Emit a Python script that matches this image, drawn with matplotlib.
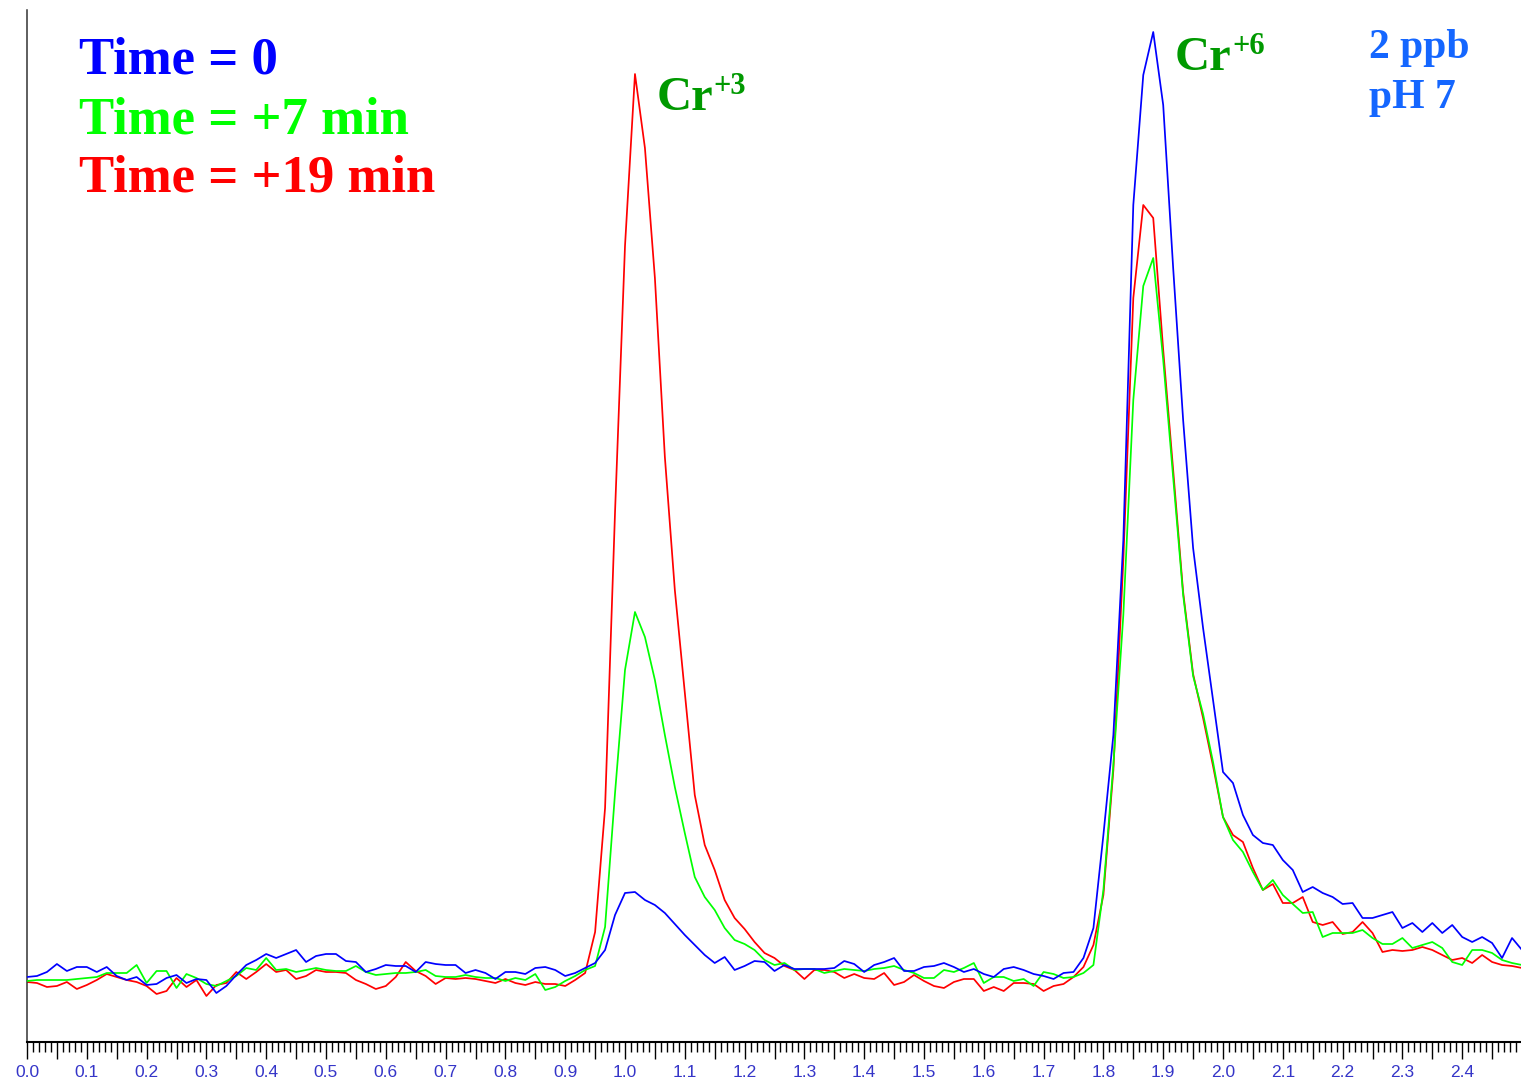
import numpy as np
import matplotlib
matplotlib.use("Agg")
import matplotlib.pyplot as plt
from matplotlib.ticker import MultipleLocator, FuncFormatter

# Detector signal (arbitrary units) sampled once per second; time axis in minutes
SAMPLE_MIN = 1.0 / 60.0

signal_t0 = [
    65, 66, 70, 78, 71, 75, 75, 70, 75, 66, 62, 65, 57, 58, 64, 67, 59, 63, 62, 49,
    56, 67, 77, 82, 88, 84, 88, 92, 80, 86, 88, 88, 81, 80, 70, 73, 77, 76, 76, 70,
    80, 78, 77, 77, 69, 72, 69, 63, 70, 70, 68, 74, 75, 72, 66, 69, 74, 79, 92, 127,
    149, 150, 142, 137, 129, 118, 107, 97, 87, 79, 85, 72, 76, 81, 80, 71, 77, 73, 73, 73,
    73, 74, 81, 78, 70, 77, 80, 84, 71, 71, 75, 76, 79, 75, 70, 73, 68, 65, 73, 75,
    72, 68, 66, 63, 69, 70, 84, 114, 207, 307, 502, 837, 967, 1010, 937, 774, 622, 494, 414, 342,
    270, 259, 227, 207, 199, 197, 182, 172, 150, 155, 149, 145, 138, 139, 124, 124, 127, 130, 114, 119,
    110, 119, 109, 117, 105, 100, 105, 99, 84, 104, 92,
]

signal_t7 = [
    61, 62, 62, 62, 62, 63, 64, 65, 69, 69, 69, 77, 59, 71, 71, 54, 68, 64, 58, 56,
    61, 66, 74, 72, 84, 72, 73, 70, 72, 74, 72, 71, 71, 76, 70, 67, 68, 69, 69, 70,
    72, 66, 65, 65, 67, 65, 64, 64, 61, 64, 62, 68, 52, 55, 61, 66, 72, 76, 115, 249,
    372, 430, 405, 362, 307, 255, 209, 165, 145, 132, 114, 102, 98, 92, 82, 77, 79, 72, 73, 73,
    69, 71, 73, 72, 71, 73, 74, 76, 72, 69, 64, 64, 72, 70, 74, 79, 59, 65, 65, 61,
    63, 56, 70, 68, 64, 65, 69, 77, 152, 277, 427, 642, 756, 784, 682, 564, 447, 366, 328, 280,
    225, 202, 190, 170, 152, 162, 147, 138, 129, 130, 105, 109, 109, 109, 112, 104, 98, 98, 104, 94,
    97, 100, 94, 80, 77, 92, 92, 89, 82, 79, 77,
]

signal_t19 = [
    60, 59, 55, 56, 60, 53, 57, 62, 68, 65, 62, 60, 56, 48, 51, 64, 55, 62, 46, 57,
    59, 70, 63, 70, 78, 70, 72, 63, 66, 72, 70, 70, 69, 62, 58, 53, 56, 65, 80, 71,
    66, 58, 64, 63, 64, 63, 61, 59, 63, 59, 57, 60, 58, 58, 56, 62, 69, 110, 234, 530,
    796, 968, 894, 764, 585, 452, 349, 247, 197, 172, 142, 124, 113, 100, 89, 84, 76, 72, 63, 72,
    72, 70, 64, 68, 64, 63, 69, 57, 60, 67, 61, 56, 54, 60, 63, 63, 51, 55, 51, 59,
    59, 58, 51, 56, 58, 65, 75, 97, 147, 272, 482, 744, 837, 824, 692, 572, 450, 368, 324, 276,
    225, 207, 200, 174, 152, 158, 139, 139, 145, 120, 117, 120, 108, 110, 120, 109, 90, 92, 91, 92,
    95, 92, 87, 82, 84, 79, 87, 80, 77, 76, 74,
]

series_labels = ["Time = 0", "Time = +7 min", "Time = +19 min"]
series_colors = ["#0000ff", "#00ff00", "#ff0000"]
tick_label_color = "#3535c8"

W, H = 1521, 1082
fig = plt.figure(figsize=(W / 100, H / 100), dpi=100)
fig.patch.set_facecolor("white")
ax = fig.add_axes([27 / W, 40 / H, (W - 27) / W, 1032 / H])
ax.set_facecolor("white")

def times(n):
    return np.arange(n) * SAMPLE_MIN

ax.plot(times(len(signal_t19)), signal_t19, color=series_colors[2], lw=1.25, zorder=2)
ax.plot(times(len(signal_t7)), signal_t7, color=series_colors[1], lw=1.25, zorder=3)
ax.plot(times(len(signal_t0)), signal_t0, color=series_colors[0], lw=1.25, zorder=4)

ax.set_xlim(0, (W - 27) / 598.0)
ax.set_ylim(0, 1032)

for side in ("top", "right"):
    ax.spines[side].set_visible(False)
ax.spines["left"].set_color("#333333")
ax.spines["left"].set_linewidth(1.1)
ax.spines["bottom"].set_color("black")
ax.spines["bottom"].set_linewidth(1.5)

ax.yaxis.set_visible(False)
ax.xaxis.set_major_locator(MultipleLocator(0.05))
ax.xaxis.set_minor_locator(MultipleLocator(0.01))
ax.xaxis.set_major_formatter(
    FuncFormatter(lambda v, pos: f"{v:.1f}" if int(round(v * 20)) % 2 == 0 else "")
)
ax.tick_params(axis="x", which="major", direction="out", length=12, width=1.0,
               color="black", pad=4.5, labelsize=12.5, labelcolor=tick_label_color)
ax.tick_params(axis="x", which="minor", direction="out", length=7, width=1.0,
               color="black")
for lab in ax.get_xticklabels():
    lab.set_fontfamily("Liberation Sans")

def fx(px):
    return px / W

def fy(py):
    return 1 - py / H

serif = "Liberation Serif"

# Legend-style captions
for label, color, base in zip(series_labels, series_colors, [74, 133, 191]):
    fig.text(fx(79), fy(base), label, color=color, fontsize=38, fontweight="bold",
             family=serif, ha="left", va="baseline")

# Peak annotations
peak_green = "#009900"
fig.text(fx(657), fy(110), "Cr", color=peak_green, fontsize=35, fontweight="bold",
         family=serif, ha="left", va="baseline")
fig.text(fx(713), fy(94), "+3", color=peak_green, fontsize=22, fontweight="bold",
         family=serif, ha="left", va="baseline")
fig.text(fx(1175), fy(70), "Cr", color=peak_green, fontsize=35, fontweight="bold",
         family=serif, ha="left", va="baseline")
fig.text(fx(1232), fy(54), "+6", color=peak_green, fontsize=22, fontweight="bold",
         family=serif, ha="left", va="baseline")

cond_color = "#1466ff"
fig.text(fx(1369), fy(58), "2 ppb", color=cond_color, fontsize=30, fontweight="bold",
         family=serif, ha="left", va="baseline")
fig.text(fx(1369), fy(108), "pH 7", color=cond_color, fontsize=30, fontweight="bold",
         family=serif, ha="left", va="baseline")

fig.savefig("out.png", dpi=100, facecolor="white")
